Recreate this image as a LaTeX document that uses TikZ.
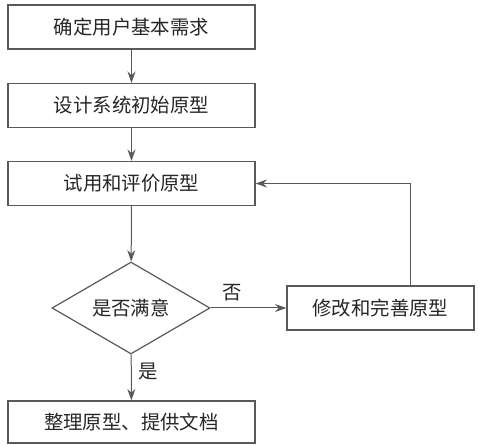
\documentclass[tikz,border=0pt]{standalone}
\usepackage{fontspec}
\newfontfamily\cjk{Noto Sans CJK SC}
\usetikzlibrary{arrows.meta,positioning,shapes.geometric}

\begin{document}
\begin{tikzpicture}[
  x=0.5pt, y=-0.5pt,
  font=\cjk\fontsize{9.7}{12}\selectfont,
  box/.style={draw=black!65, line width=0.6pt, minimum width=123.5pt, minimum height=22pt, inner sep=0pt, text=black!85},
  decision/.style={draw=black!65, line width=0.6pt, diamond, aspect=1.74, minimum width=79pt, minimum height=46pt, inner sep=0pt, text=black!85},
  arrow/.style={draw=black!65, -{Stealth[length=2mm, width=1.4mm]}, line width=0.5pt}
]
\useasboundingbox (0,0) rectangle (479,445);

\node[box] (need) at (131.5,27) {确定用户基本需求};
\node[box] (design) at (131.5,105.5) {设计系统初始原型};
\node[box] (trial) at (131.5,183.5) {试用和评价原型};
\node[decision] (ok) at (131,308) {是否满意};
\node[box, minimum width=93.5pt] (revise) at (380.5,308) {修改和完善原型};
\node[box, minimum height=21pt] (doc) at (131.5,422) {整理原型、提供文档};

\draw[arrow] (need) -- (design);
\draw[arrow] (design) -- (trial);
\draw[arrow] (trial) -- (ok);
\draw[arrow] (ok) -- node[above, pos=0.28, text=black!85] {否} (revise);
\draw[arrow] ([xshift=15pt]revise.north) |- (trial.east);
\draw[arrow] (ok) -- node[right, pos=0.38, text=black!85] {是} (doc);
\end{tikzpicture}
\end{document}
